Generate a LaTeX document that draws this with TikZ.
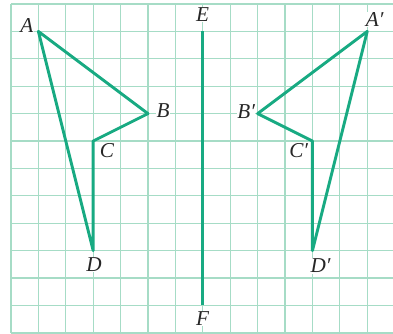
\documentclass[tikz,border=0pt]{standalone}
\usepackage{fontspec}
\setmainfont{Liberation Serif}
\usepackage{tikz}
\definecolor{gridc}{RGB}{166,220,198}
\definecolor{linec}{RGB}{24,170,130}
\tikzset{
  gridline/.style={draw=gridc, line width=1.3pt},
  figline/.style={draw=linec, line width=3pt, line join=round, line cap=round},
  lab/.style={fill=white, inner sep=0.6pt, text=black!85, font=\fontsize{22}{26}\selectfont\itshape}
}
\begin{document}
\begin{tikzpicture}
\useasboundingbox (-0.40,0.146) rectangle (13.94,-12.01);
% grid
\foreach \i in {0,...,14} \draw[gridline] (\i,0) -- (\i,-12);
\foreach \j in {0,...,12} \draw[gridline] (0,-\j) -- (14,-\j);
% points
\coordinate (A) at (1,-1);
\coordinate (B) at (5,-4);
\coordinate (C) at (3,-5);
\coordinate (D) at (3,-9);
\coordinate (E) at (7,-1);
\coordinate (F) at (7,-11);
\coordinate (A1) at (13,-1);
\coordinate (B1) at (9,-4);
\coordinate (C1) at (11,-5);
\coordinate (D1) at (11,-9);
% labels
\node[lab] (lA) at (0.58,-0.80) {A};
\node[lab] (lB) at (5.55,-3.90) {B};
\node[lab] (lC) at (3.50,-5.36) {C};
\node[lab] (lD) at (3.03,-9.50) {D};
\node[lab] (lE) at (6.99,-0.40) {E};
\node[lab] (lF) at (6.99,-11.46) {F};
\node[lab] (lA1) at (13.27,-0.58) {A′};
\node[lab] (lB1) at (8.58,-3.92) {B′};
\node[lab] (lC1) at (10.50,-5.36) {C′};
\node[lab] (lD1) at (11.30,-9.56) {D′};
% figures
\draw[figline] (A) -- (B) -- (C) -- (D) -- cycle;
\draw[figline] (A1) -- (B1) -- (C1) -- (D1) -- cycle;
\draw[figline, line cap=butt] (E) -- (F);
\end{tikzpicture}
\end{document}
